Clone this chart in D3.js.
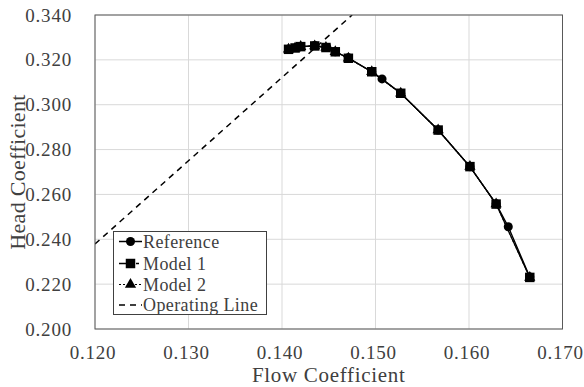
<!DOCTYPE html>
<html><head><meta charset="utf-8">
<script src="https://cdn.jsdelivr.net/npm/d3@7"></script>
<style>body{margin:0;background:#fff}svg{display:block}</style>
</head><body>
<svg id="c" width="584" height="387"></svg>
<script>
const xTicks = [0.12,0.13,0.14,0.15,0.16,0.17];
const yTicks = [0.20,0.22,0.24,0.26,0.28,0.30,0.32,0.34];
const refX = [0.1407,0.1418,0.1435,0.1448,0.1457,0.1471,0.1496,0.1507,0.1527,0.1567,0.1601,0.1629,0.1642,0.1665];
const refY = [0.3247,0.3257,0.3264,0.3255,0.3236,0.3209,0.3147,0.3115,0.3051,0.2887,0.2724,0.2558,0.2456,0.2232];
const m1X = [0.1407,0.1414,0.1420,0.1435,0.1447,0.1457,0.1471,0.1496,0.1527,0.1567,0.1601,0.1629,0.1665];
const m1Y = [0.3247,0.3253,0.3259,0.3262,0.3255,0.3236,0.3207,0.3147,0.3051,0.2887,0.2724,0.2557,0.2230];
const m2X = [0.1407,0.1414,0.1420,0.1435,0.1447,0.1457,0.1471,0.1496,0.1527,0.1567,0.1601,0.1629,0.1665];
const m2Y = [0.3247,0.3253,0.3259,0.3262,0.3255,0.3236,0.3207,0.3147,0.3051,0.2887,0.2724,0.2557,0.2230];
const opX = [0.1200,0.1475];
const opY = [0.2379,0.3400];
const legendLabels = ["Reference","Model 1","Model 2","Operating Line"];

const svg = d3.select("#c");
const L=95, R=562.5, T=15, B=329;
const x = d3.scaleLinear().domain([0.12,0.17]).range([L,R]);
const y = d3.scaleLinear().domain([0.20,0.34]).range([B,T]);
const font = "'Liberation Serif','Times New Roman',serif";
const txt = "#404040";

svg.append("g").selectAll("line").data(xTicks).join("line")
  .attr("x1",d=>x(d)).attr("x2",d=>x(d)).attr("y1",T).attr("y2",B)
  .attr("stroke","#d9d9d9").attr("stroke-width",1);
svg.append("g").selectAll("line").data(yTicks).join("line")
  .attr("x1",L).attr("x2",R).attr("y1",d=>y(d)).attr("y2",d=>y(d))
  .attr("stroke","#d9d9d9").attr("stroke-width",1);

const xa = svg.append("g").attr("transform",`translate(-2.5,${B})`)
  .call(d3.axisBottom(x).tickValues(xTicks).tickFormat(d3.format(".3f")).tickSize(0).tickPadding(17));
const ya = svg.append("g").attr("transform",`translate(${L},0)`)
  .call(d3.axisLeft(y).tickValues(yTicks).tickFormat(d3.format(".3f")).tickSize(0).tickPadding(23));
[xa,ya].forEach(a=>{a.select(".domain").remove();
  a.selectAll("text").attr("font-family",font).attr("font-size",19).attr("letter-spacing","0.8px").attr("fill",txt);});

svg.append("clipPath").attr("id","clip").append("rect").attr("x",L).attr("y",T).attr("width",R-L).attr("height",B-T);
const g = svg.append("g").attr("clip-path","url(#clip)");

const line = d3.line().x(d=>x(d[0])).y(d=>y(d[1]));
const zip=(a,b)=>a.map((v,i)=>[v,b[i]]);

g.append("path").datum(zip(opX,opY)).attr("d",line).attr("fill","none")
  .attr("stroke","#000").attr("stroke-width",1.5).attr("stroke-dasharray","6,5");
g.append("path").datum(zip(m2X,m2Y)).attr("d",line).attr("fill","none")
  .attr("stroke","#000").attr("stroke-width",1.2).attr("stroke-dasharray","2,2");
g.append("path").datum(zip(refX,refY)).attr("d",line).attr("fill","none")
  .attr("stroke","#000").attr("stroke-width",1.4);
g.append("path").datum(zip(m1X,m1Y)).attr("d",line).attr("fill","none")
  .attr("stroke","#000").attr("stroke-width",1.3);

const tri = d3.symbol().type(d3.symbolTriangle).size(55);
const circ = d3.symbol().type(d3.symbolCircle).size(64);
const sq = d3.symbol().type(d3.symbolSquare).size(90);
svg.append("g").selectAll("path").data(zip(m2X,m2Y)).join("path")
  .attr("d",tri).attr("transform",d=>`translate(${x(d[0])},${y(d[1])})`).attr("fill","#000");
svg.append("g").selectAll("path").data(zip(refX,refY)).join("path")
  .attr("d",circ).attr("transform",d=>`translate(${x(d[0])},${y(d[1])})`).attr("fill","#000");
svg.append("g").selectAll("path").data(zip(m1X,m1Y)).join("path")
  .attr("d",sq).attr("transform",d=>`translate(${x(d[0])},${y(d[1])})`).attr("fill","#000");

svg.append("rect").attr("x",L).attr("y",T).attr("width",R-L).attr("height",B-T)
  .attr("fill","none").attr("stroke","#595959").attr("stroke-width",1);

const lg = svg.append("g");
lg.append("rect").attr("x",113.5).attr("y",231.5).attr("width",153).attr("height",83)
  .attr("fill","#fff").attr("stroke","#404040").attr("stroke-width",1);
const rows=[241.5,263.5,284.5,305];
const styles=[{dash:null,sym:circ,w:1.5},{dash:"14,3,3,3",sym:sq,w:1.3},{dash:"2,2",sym:tri,w:1.2},{dash:"6,5",sym:null,w:1.5}];
legendLabels.forEach((lab,i)=>{
  const yy=rows[i];
  lg.append("line").attr("x1",119).attr("x2",142).attr("y1",yy).attr("y2",yy)
    .attr("stroke","#000").attr("stroke-width",styles[i].w)
    .attr("stroke-dasharray",styles[i].dash);
  if(styles[i].sym) lg.append("path").attr("d",styles[i].sym).attr("transform",`translate(130.5,${yy})`).attr("fill","#000");
  lg.append("text").attr("x",143).attr("y",yy).attr("dy","0.35em").text(lab)
    .attr("font-family",font).attr("font-size",18).attr("letter-spacing","0.4px").attr("fill",txt);
});

svg.append("text").attr("x",(L+R)/2).attr("y",382).attr("text-anchor","middle")
  .attr("font-family",font).attr("font-size",21).attr("letter-spacing","0.7px").attr("fill",txt).text("Flow Coefficient");
svg.append("text").attr("transform",`translate(25,${(T+B)/2}) rotate(-90)`).attr("text-anchor","middle")
  .attr("font-family",font).attr("font-size",22).attr("letter-spacing","0.3px").attr("fill",txt).text("Head Coefficient");
</script>
</body></html>
